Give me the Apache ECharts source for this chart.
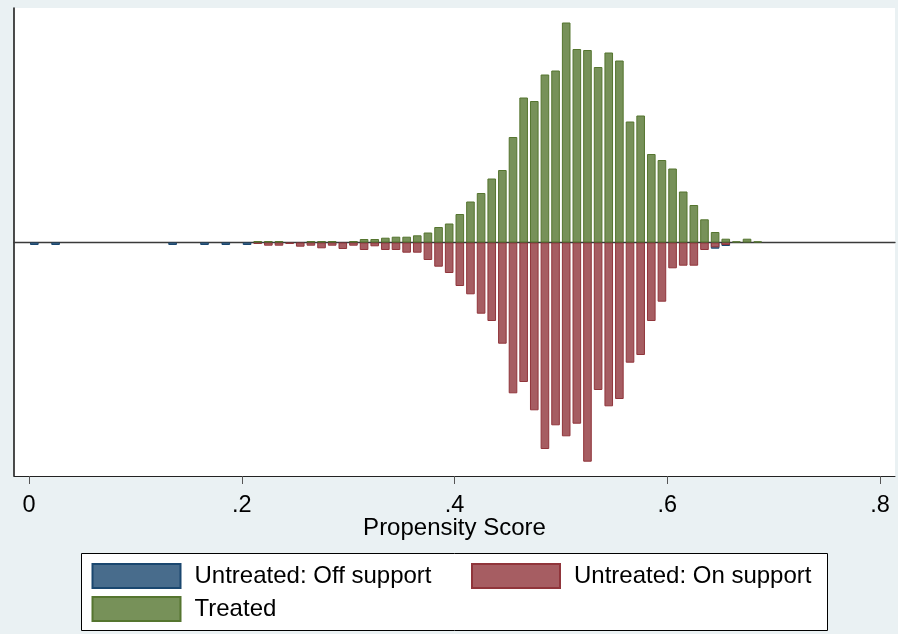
<!DOCTYPE html>
<html>
<head>
<meta charset="utf-8">
<script src="https://cdn.jsdelivr.net/npm/echarts@6/dist/echarts.min.js"></script>
<style>
  html, body { margin: 0; padding: 0; background: #eaf1f3; }
  #chart { width: 898px; height: 634px; }
</style>
</head>
<body>
<div id="chart"></div>
<script>
// ---- data (bin midpoints, bin width 0.01) ----
const offSupportBins   = [0.005, 0.025, 0.135, 0.165, 0.185, 0.205, 0.645, 0.655];
const offSupportValues = [-0.25, -0.25, -0.25, -0.25, -0.25, -0.25, -0.62, -0.35];

const onSupportBins = [0.215, 0.225, 0.235, 0.245, 0.255, 0.265, 0.275, 0.285, 0.295, 0.305,
                       0.315, 0.325, 0.335, 0.345, 0.355, 0.365, 0.375, 0.385, 0.395, 0.405,
                       0.415, 0.425, 0.435, 0.445, 0.455, 0.465, 0.475, 0.485, 0.495, 0.505,
                       0.515, 0.525, 0.535, 0.545, 0.555, 0.565, 0.575, 0.585, 0.595, 0.605,
                       0.615, 0.625, 0.635, 0.645, 0.655];
const onSupportValues = [-0.15, -0.32, -0.32, -0.15, -0.42, -0.32, -0.58, -0.32, -0.65, -0.32,
                         -0.75, -0.38, -0.75, -0.75, -1.02, -1.02, -1.75, -2.42, -3.05, -4.35,
                         -5.18, -7.12, -7.85, -10.12, -15.08, -13.95, -16.78, -20.65, -18.28, -19.38,
                         -18.12, -21.92, -14.75, -16.38, -15.65, -12.02, -11.25, -7.85, -5.92, -2.58,
                         -2.32, -2.32, -0.75, -0.48, -0.25];

const treatedBins = [0.215, 0.225, 0.235, 0.265, 0.275, 0.285, 0.305, 0.315, 0.325, 0.335,
                     0.345, 0.355, 0.365, 0.375, 0.385, 0.395, 0.405, 0.415, 0.425, 0.435,
                     0.445, 0.455, 0.465, 0.475, 0.485, 0.495, 0.505, 0.515, 0.525, 0.535,
                     0.545, 0.555, 0.565, 0.575, 0.585, 0.595, 0.605, 0.615, 0.625, 0.635,
                     0.645, 0.655, 0.665, 0.675, 0.685];
const treatedValues = [0.15, 0.15, 0.15, 0.15, 0.15, 0.15, 0.15, 0.35, 0.35, 0.48,
                       0.58, 0.58, 0.72, 1.0, 1.55, 1.9, 2.85, 4.1, 4.95, 6.4,
                       7.25, 10.55, 14.5, 14.15, 16.8, 17.2, 22.0, 19.35, 19.25, 17.55,
                       19.0, 18.2, 12.1, 12.7, 8.85, 8.25, 7.4, 5.1, 3.75, 2.32,
                       1.05, 0.38, 0.12, 0.38, 0.12];

const tickValues = [0, 0.2, 0.4, 0.6, 0.8];
const tickLabels = ['0', '.2', '.4', '.6', '.8'];
const seriesNames = ['Untreated: Off support', 'Untreated: On support', 'Treated'];

// ---- styling ----
const FONT = "'Liberation Sans', Arial, Helvetica, sans-serif";
const fills   = ['#486c8c', '#a65d62', '#779159'];
const borders = ['#1a476f', '#90353b', '#55752f'];
const Y_MIN = -23.35, Y_MAX = 23.45;

function pairs(xs, ys) { return xs.map((x, i) => [x, ys[i]]); }

function barSeries(idx, xs, ys) {
  return {
    name: seriesNames[idx],
    type: 'bar',
    xAxisIndex: 2,
    yAxisIndex: 1,
    barWidth: 8.6,
    barGap: '-100%',
    data: pairs(xs, ys),
    itemStyle: { color: fills[idx], borderColor: borders[idx], borderWidth: 1 },
    emphasis: { disabled: true },
    silent: true
  };
}

const chart = echarts.init(document.getElementById('chart'), null, { renderer: 'canvas' });

const legendText = { fontSize: 24, color: '#000', fontFamily: FONT, padding: [0, 0, 0, 9] };

chart.setOption({
  backgroundColor: '#eaf1f3',
  animation: false,
  textStyle: { fontFamily: FONT },
  grid: [
    { left: 14, right: 3, top: 8, bottom: 158, show: true, backgroundColor: '#ffffff', borderWidth: 0 },
    { left: 29, right: 18, top: 8, bottom: 158 }
  ],
  xAxis: [
    { // bottom frame line of plot region
      gridIndex: 0, type: 'value', min: 0, max: 1, position: 'bottom',
      axisLine: { show: true, onZero: false, lineStyle: { color: '#222', width: 1 } },
      axisTick: { show: false }, axisLabel: { show: false }, splitLine: { show: false }
    },
    { // zero reference line across plot region
      gridIndex: 0, type: 'value', min: 0, max: 1, position: 'top',
      axisLine: { show: true, onZero: true, lineStyle: { color: '#3a3a3a', width: 1.3 } },
      axisTick: { show: false }, axisLabel: { show: false }, splitLine: { show: false }
    },
    { // data axis
      gridIndex: 1, type: 'value', min: 0, max: 0.8, interval: 0.2, position: 'bottom',
      axisLine: { show: false, onZero: false },
      axisTick: { show: true, length: 8, lineStyle: { color: '#555', width: 1 } },
      axisLabel: {
        show: true, margin: 18, fontSize: 23.5, color: '#000', fontFamily: FONT,
        formatter: v => tickLabels[tickValues.findIndex(t => Math.abs(t - v) < 1e-9)] ?? ''
      },
      splitLine: { show: false },
      name: 'Propensity Score', nameLocation: 'middle', nameGap: 40, nameMoveOverlap: false,
      nameTextStyle: { fontSize: 24, color: '#000', fontFamily: FONT }
    }
  ],
  yAxis: [
    {
      gridIndex: 0, type: 'value', min: Y_MIN, max: Y_MAX,
      axisLine: { show: true, onZero: false, lineStyle: { color: '#111', width: 1.5 } },
      axisTick: { show: false }, axisLabel: { show: false }, splitLine: { show: false }
    },
    {
      gridIndex: 1, type: 'value', min: Y_MIN, max: Y_MAX,
      axisLine: { show: false }, axisTick: { show: false },
      axisLabel: { show: false }, splitLine: { show: false }
    }
  ],
  graphic: [
    {
      type: 'rect', z: 1,
      shape: { x: 81.5, y: 553.5, width: 746, height: 77 },
      style: { fill: '#ffffff', stroke: '#000', lineWidth: 1 }
    }
  ],
  legend: [
    {
      data: [seriesNames[0]], left: 91.5, top: 563, padding: 0,
      icon: 'rect', itemWidth: 88, itemHeight: 24, selectedMode: false,
      textStyle: legendText
    },
    {
      data: [seriesNames[1]], left: 471, top: 563, padding: 0,
      icon: 'rect', itemWidth: 88, itemHeight: 24, selectedMode: false,
      textStyle: legendText
    },
    {
      data: [seriesNames[2]], left: 91.5, top: 596, padding: 0,
      icon: 'rect', itemWidth: 88, itemHeight: 24, selectedMode: false,
      textStyle: legendText
    }
  ],
  series: [
    barSeries(0, offSupportBins, offSupportValues),
    barSeries(1, onSupportBins, onSupportValues),
    barSeries(2, treatedBins, treatedValues)
  ]
});
</script>
</body>
</html>
